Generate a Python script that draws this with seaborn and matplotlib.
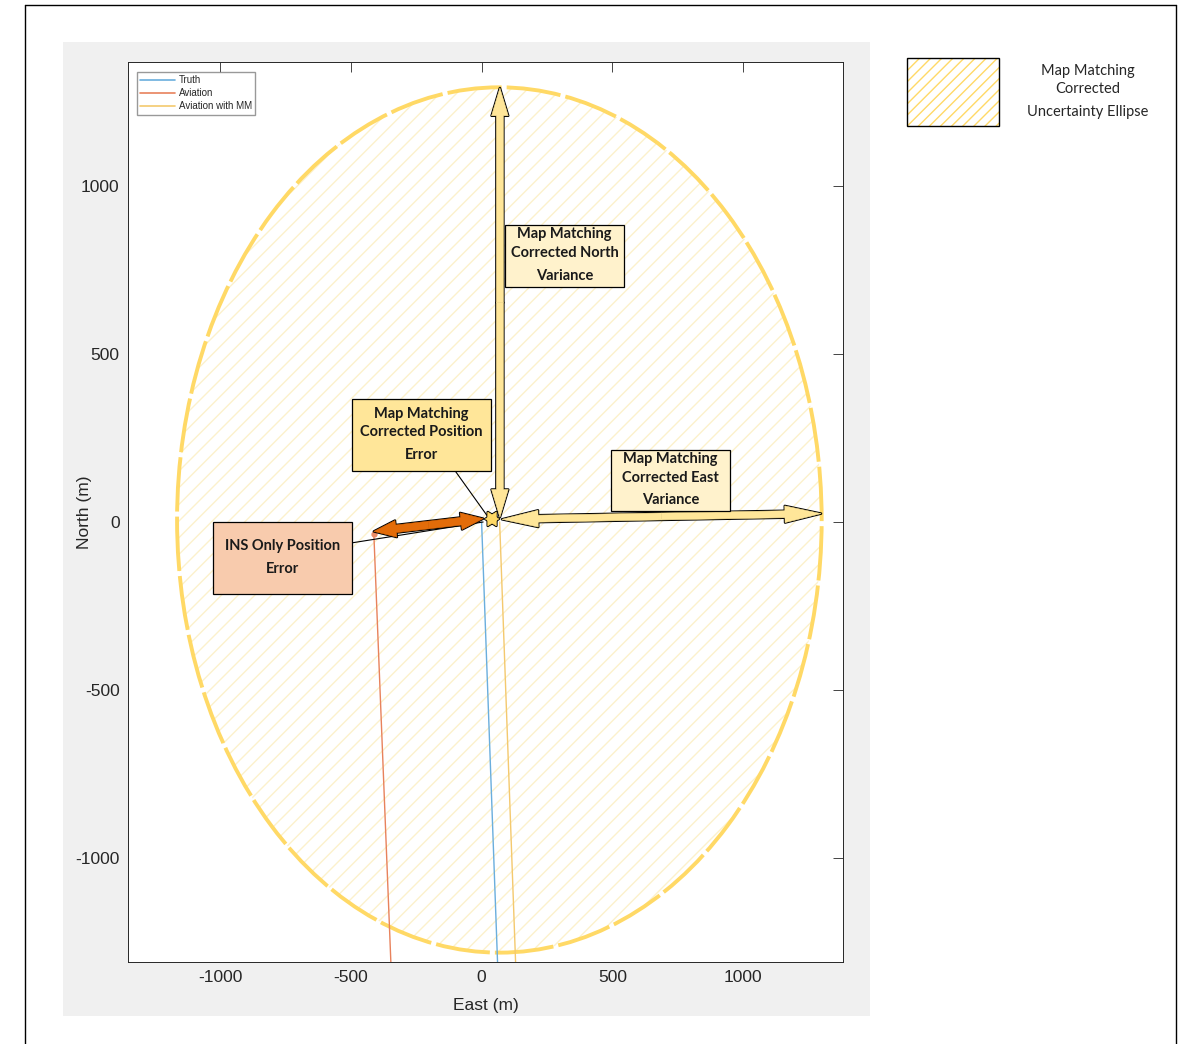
import numpy as np
import pandas as pd
import matplotlib.pyplot as plt
import matplotlib.patches as mpatches
from matplotlib.lines import Line2D
import seaborn as sns

# === DATA (East / North, metres) ===
truth_east = [0, 61]
truth_north = [0, -1310]
aviation_east = [-412, -347]
aviation_north = [-36, -1310]
mm_east = [69, 130]
mm_north = [0, -1310]
series_names = ["Truth", "Aviation", "Aviation with MM"]
series_colors = ["#6aaedd", "#e8825c", "#f4c96e"]

ellipse_center = (68, 6)
ellipse_width = 2465
ellipse_height = 2576

north_var_arrow = [(70, 14), (70, 1292)]
east_var_arrow = [(78, 8), (1298, 25)]
ins_error_arrow = [(6, 10), (-412, -28)]
mm_error_arrow = [(14, 9), (66, 9)]

ticks = [-1000, -500, 0, 500, 1000]

# annotation boxes: (x0, y0, x1, y1) in data units, text lines, fill
boxes = [
    ((90, 699, 545, 884), ["Map Matching", "Corrected North", "Variance"], "#fff2cc"),
    ((-495, 152, 36, 366), ["Map Matching", "Corrected Position", "Error"], "#ffe699"),
    ((495, 33, 950, 214), ["Map Matching", "Corrected East", "Variance"], "#fff2cc"),
    ((-1027, -214, -495, 0), ["INS Only Position", "Error"], "#f8cbad"),
]
# where each text line sits, as a fraction of box height from the top
line_fracs = [[0.145, 0.45, 0.82], [0.21, 0.46, 0.78], [0.15, 0.46, 0.82], [0.33, 0.65]]

# === FIGURE ===
sns.set_theme(style="white")
plt.rcParams["font.family"] = ["Liberation Sans", "DejaVu Sans"]
plt.rcParams["axes.unicode_minus"] = False
plt.rcParams["hatch.linewidth"] = 1.0

fig = plt.figure(figsize=(11.79, 10.44), dpi=100)
fig.patch.set_facecolor("white")

# grey canvas behind axes (MATLAB figure colour)
fig.patches.append(mpatches.Rectangle((0.0534, 0.0268), 0.6845, 0.933,
                                      transform=fig.transFigure, facecolor="#f0f0f0",
                                      edgecolor="none", zorder=-5))
# outer frame
for xs, ys in [([0.0212, 0.9975], [0.9952, 0.9952]), ([0.0212, 0.0212], [0.0, 0.9952]),
               ([0.9975, 0.9975], [0.0, 0.9952])]:
    fig.add_artist(Line2D(xs, ys, transform=fig.transFigure, color="black", lw=1.0))

ax = fig.add_axes([0.1086, 0.0785, 0.6064, 0.862])
ax.set_facecolor("white")

df = pd.concat([
    pd.DataFrame({"East": truth_east, "North": truth_north, "Series": series_names[0]}),
    pd.DataFrame({"East": aviation_east, "North": aviation_north, "Series": series_names[1]}),
    pd.DataFrame({"East": mm_east, "North": mm_north, "Series": series_names[2]}),
], ignore_index=True)

sns.lineplot(data=df, x="East", y="North", hue="Series", palette=series_colors,
             sort=False, estimator=None, lw=1.0, ax=ax, zorder=3, legend=False)
ax.plot(aviation_east[0], aviation_north[0], "o", color="#ea8c66", ms=3.5, zorder=3)

# uncertainty ellipse: hatch + dashed edge
ax.add_patch(mpatches.Ellipse(ellipse_center, ellipse_width, ellipse_height,
                              facecolor="none", edgecolor="#fcf1cc", hatch="//", lw=0, zorder=1))
ax.add_patch(mpatches.Ellipse(ellipse_center, ellipse_width, ellipse_height,
                              facecolor="none", edgecolor="#ffd966", lw=2.8,
                              linestyle=(0, (14, 1.3)), zorder=2))


def double_arrow(p0, p1, fc, tail, head_w, head_l):
    mid = ((p0[0] + p1[0]) / 2, (p0[1] + p1[1]) / 2)
    style = mpatches.ArrowStyle("simple", head_length=head_l, head_width=head_w, tail_width=tail)
    # outlined halves first, then fill-only halves on top to hide the seam in the middle
    for lw, ec in [(1.8, "black"), (0.4, fc)]:
        for end in (p0, p1):
            ax.add_patch(mpatches.FancyArrowPatch(mid, end, arrowstyle=style, mutation_scale=1,
                                                  facecolor=fc, edgecolor=ec, lw=lw,
                                                  shrinkA=0, shrinkB=0, zorder=5))


double_arrow(*north_var_arrow, "#ffe699", 5, 12, 20)
double_arrow(*east_var_arrow, "#ffe699", 5, 12, 26)
double_arrow(*ins_error_arrow, "#e36c09", 5.5, 12, 16)
double_arrow(*mm_error_arrow, "#ffd966", 5, 10, 8)

# callout leader lines
ax.plot([-101, 33], [152, 6], color="black", lw=0.8, zorder=4)
ax.plot([-495, 6], [-62, 0], color="black", lw=0.8, zorder=4)

for ((x0, y0, x1, y1), lines, fc), fracs in zip(boxes, line_fracs):
    ax.add_patch(mpatches.Rectangle((x0, y0), x1 - x0, y1 - y0, facecolor=fc,
                                    edgecolor="black", lw=0.9, zorder=6))
    for frac, line in zip(fracs, lines):
        ax.text((x0 + x1) / 2, y1 - frac * (y1 - y0), line, ha="center", va="center",
                fontsize=10.5, fontweight="bold", zorder=7, color="#1a1a1a",
                family=["Lato", "DejaVu Sans"])

ax.set_xlim(-1352, 1382)
ax.set_ylim(-1310, 1369)
ax.set_xticks(ticks)
ax.set_yticks(ticks)
ax.tick_params(direction="in", length=7, width=0.6, top=True, right=True,
               labelsize=12.5, colors="#262626", pad=6)
for s in ax.spines.values():
    s.set_color("#262626")
    s.set_linewidth(0.7)
ax.set_xlabel("East (m)", fontsize=12.5, color="#262626", labelpad=9)
ax.set_ylabel("North (m)", fontsize=12.5, color="#262626")
ax.yaxis.set_label_coords(-0.05, 0.5)

handles = [Line2D([], [], color=c, lw=1.2) for c in series_colors]
ax.legend(handles, series_names, loc="upper left", bbox_to_anchor=(0.012, 0.989),
          fontsize=7, frameon=True, fancybox=False, edgecolor="#808080",
          handlelength=3.6, borderpad=0.35, labelspacing=0.3, handletextpad=0.4,
          borderaxespad=0)

# right-hand key for the ellipse
fig.patches.append(mpatches.Rectangle((0.7693, 0.8793), 0.078, 0.0651, transform=fig.transFigure,
                                      facecolor="white", edgecolor="#ffd966", hatch="///", lw=0))
fig.patches.append(mpatches.Rectangle((0.7693, 0.8793), 0.078, 0.0651, transform=fig.transFigure,
                                      facecolor="none", edgecolor="black", lw=1.0))
for y, t in [(71, "Map Matching"), (89, "Corrected"), (112, "Uncertainty Ellipse")]:
    fig.text(0.9228, 1 - y / 1044, t, ha="center", va="center", fontsize=10.5,
             family=["Lato", "DejaVu Sans"], color="#262626")

fig.savefig("out.png", dpi=100)
